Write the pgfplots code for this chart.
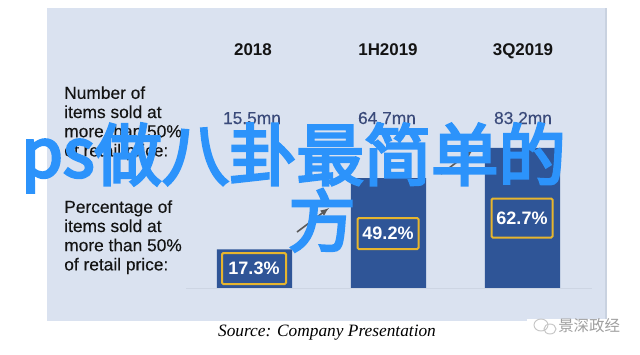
\documentclass[border=0pt]{standalone}
\usepackage{fontspec}
\setmainfont{Liberation Sans}
\newfontfamily\lab[FakeBold=0.25]{Liberation Sans}
\newfontfamily\cjk{Noto Sans CJK SC}
\newfontfamily\cjkover[FakeBold=4]{Noto Sans CJK SC}
\usepackage{pgfplots}
\pgfplotsset{compat=1.18}
\definecolor{panel}{HTML}{DAE2F0}
\definecolor{panelb}{HTML}{C9D2E0}
\definecolor{bar}{HTML}{2F5597}
\definecolor{gold}{HTML}{E6B52E}
\definecolor{ink}{HTML}{141414}
\definecolor{val}{HTML}{3A4A7A}
\definecolor{over}{HTML}{2C93FB}
\definecolor{base}{HTML}{CDD5E3}
\begin{document}
\begin{tikzpicture}[x=0.75pt,y=-0.75pt]
\fill[white] (0,0) rectangle (640,354);
\fill[panel] (47,8) rectangle (607,321);
\fill[panelb] (604.5,8) rectangle (607,321);
\draw[base,line width=0.6pt] (186,288) -- (592,288);
\begin{axis}[
  at={(0pt,-265.5pt)},anchor=south west,
  scale only axis,width=480pt,height=265.5pt,
  xmin=-1.8993,xmax=2.8769,ymin=-29.56,ymax=128.97,
  axis lines=none,clip=false,
  ybar,bar width=0.56,bar shift=0pt]
\addplot[draw=none,fill=bar] coordinates {(0,17.3) (1,49.2) (2,62.7)};
\end{axis}
\draw[gray!70!black,line width=1.2pt,-latex] (297,232) -- (329,208);
\draw[gray!70!black,line width=1.2pt,-latex] (441,174) -- (473,150);
\foreach \xx/\yy/\ww/\hh/\tt in {254/268.5/64/31/17.3\%, 388/233.5/61/31/49.2\%, 522/218/61/39/62.7\%}{
  \node[draw=gold,line width=1.5pt,rounded corners=1pt,minimum width=\ww*0.75pt,minimum height=\hh*0.75pt,inner sep=0pt,text=white,font=\fontsize{13.5}{14}\selectfont\bfseries] at (\xx,\yy) {\tt};
}
\foreach \xx/\tt in {253/2018,388/1H2019,523/3Q2019}{
  \node[anchor=base,text=ink,font=\fontsize{12.7}{14}\selectfont\bfseries] at (\xx,55) {\tt};
}
\foreach \xx/\tt in {252/15.5mn,387/64.7mn,523/83.2mn}{
  \node[anchor=base,text=val,font=\fontsize{13}{14}\selectfont\lab] at (\xx,124) {\tt};
}
\node[anchor=north west,align=left,text=ink,inner sep=0pt,font=\fontsize{13}{14.4}\selectfont\lab] at (64,86) {Number of\\items sold at\\more than 50\%\\of retail price:};
\node[anchor=north west,align=left,text=ink,inner sep=0pt,font=\fontsize{13}{14.4}\selectfont\lab] at (64,200) {Percentage of\\items sold at\\more than 50\%\\of retail price:};
\node[font=\fontsize{13}{14}\selectfont,text=black] at (327,333) {\fontspec{Liberation Serif}\itshape Source: Company Presentation};
\fill[white] (527,319) rectangle (622,321);
\draw[gray!45,line width=0.7pt] (541,325) ellipse (7 and 6);
\draw[gray!45,line width=0.7pt] (550,329) ellipse (6 and 5);
\node[anchor=west,inner sep=0pt,text=gray!75,font=\cjk\fontsize{11.6}{12}\selectfont] at (558,326) {景深政经};
\node[anchor=base west,inner sep=0pt,text=over,font=\fontsize{50.5}{55}\selectfont\cjkover] at (21,177) {ps\raisebox{-2.2pt}{做八卦最简单的}};
\node[anchor=base west,inner sep=0pt,text=over,font=\fontsize{50.5}{55}\selectfont\cjkover] at (288,246) {方};
\end{tikzpicture}
\end{document}
